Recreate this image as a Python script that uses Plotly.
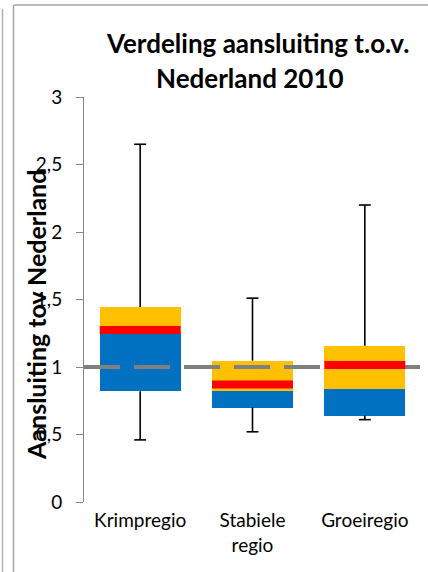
import plotly.graph_objects as go

# Box-plot summary per region type (ratio to the Netherlands, 2010)
regions = ["Krimpregio", "Stabiele<br>regio", "Groeiregio"]
minimum = [0.46, 0.52, 0.61]
q1 = [0.82, 0.70, 0.64]
median = [1.245, 0.82, 0.835]
mean = [1.275, 0.87, 1.015]
q3 = [1.445, 1.047, 1.158]
maximum = [2.65, 1.51, 2.20]
reference_level = 1.0

y_ticks = [0, 0.5, 1, 1.5, 2, 2.5, 3]
y_tick_text = ["0", "0,5", "1", "1,5", "2", "2,5", "3"]

BLUE = "#0070C0"
YELLOW = "#FFC000"
RED = "#FF0000"
GREY = "#808080"
FONT = "Lato"

W, H = 428, 572
ML, MR, MT, MB = 84, 7, 97, 70
PW, PH = W - ML - MR, H - MT - MB

BOX_W = 0.72
CAP = 0.053

xs = list(range(len(regions)))

fig = go.Figure()

# lower box part: Q1 -> median
fig.add_trace(go.Bar(
    x=xs, y=[m - a for m, a in zip(median, q1)], base=q1,
    width=BOX_W, marker=dict(color=BLUE, line=dict(width=0)),
    hoverinfo="skip", showlegend=False))

# upper box part: median -> Q3
fig.add_trace(go.Bar(
    x=xs, y=[b - m for b, m in zip(q3, median)], base=median,
    width=BOX_W, marker=dict(color=YELLOW, line=dict(width=0)),
    hoverinfo="skip", showlegend=False))

# whiskers with caps
wx, wy = [], []
for i in xs:
    wx += [i, i, None, i - CAP, i + CAP, None, i, i, None, i - CAP, i + CAP, None]
    wy += [q3[i], maximum[i], None, maximum[i], maximum[i], None,
           q1[i], minimum[i], None, minimum[i], minimum[i], None]
fig.add_trace(go.Scatter(
    x=wx, y=wy, mode="lines", line=dict(color="black", width=1.6),
    hoverinfo="skip", showlegend=False))

# reference level (Nederland = 1)
fig.add_trace(go.Scatter(
    x=[-0.5, 2.5], y=[reference_level, reference_level], mode="lines",
    line=dict(color=GREY, width=4, dash="36px,14px"),
    hoverinfo="skip", showlegend=False))

# mean marker
mx, my = [], []
for i in xs:
    mx += [i - BOX_W / 2, i + BOX_W / 2, None]
    my += [mean[i], mean[i], None]
fig.add_trace(go.Scatter(
    x=mx, y=my, mode="lines", line=dict(color=RED, width=8),
    hoverinfo="skip", showlegend=False))


def px_x(p):
    return (p - ML) / PW


def px_y(p):
    return (H - MB - p) / PH


frame = "#a6a6a6"
shapes = [
    dict(type="line", xref="paper", yref="paper", x0=px_x(2.5), x1=px_x(2.5),
         y0=px_y(9), y1=px_y(H + 2), line=dict(color="#b4b4b4", width=1.5)),
    dict(type="line", xref="paper", yref="paper", x0=px_x(13.5), x1=px_x(13.5),
         y0=px_y(5), y1=px_y(H + 2), line=dict(color=frame, width=1.5)),
    dict(type="line", xref="paper", yref="paper", x0=px_x(13.5), x1=px_x(W + 2),
         y0=px_y(5), y1=px_y(5), line=dict(color=frame, width=1.5)),
]

annotations = [
    dict(text="<b>Verdeling aansluiting t.o.v.</b>", xref="paper", yref="paper",
         x=px_x(257), y=px_y(43), xanchor="center", yanchor="middle",
         showarrow=False, font=dict(family=FONT, size=26, color="black")),
    dict(text="<b>Nederland 2010</b>", xref="paper", yref="paper",
         x=px_x(250), y=px_y(78), xanchor="center", yanchor="middle",
         showarrow=False, font=dict(family=FONT, size=26, color="black")),
    dict(text="<b>Aansluiting tov Nederland</b>", xref="paper", yref="paper",
         x=px_x(36), y=px_y(315), xanchor="center", yanchor="middle",
         textangle=-90, showarrow=False,
         font=dict(family=FONT, size=25, color="black")),
]

fig.update_layout(
    width=W, height=H,
    margin=dict(l=ML, r=MR, t=MT, b=MB, pad=0),
    paper_bgcolor="white", plot_bgcolor="white",
    barmode="overlay", bargap=0,
    font=dict(family=FONT, size=19, color="black"),
    shapes=shapes, annotations=annotations,
    xaxis=dict(range=[-0.5, 2.5], tickvals=xs, ticktext=regions,
               showline=False, showgrid=False, zeroline=False, ticks="",
               ticklabelstandoff=5,
               tickfont=dict(family=FONT, size=19, color="black"),
               fixedrange=True),
    yaxis=dict(range=[0, 3], tickvals=y_ticks, ticktext=y_tick_text,
               showline=True, linecolor="#868686", linewidth=1,
               ticks="outside", ticklen=7, tickcolor="#868686", tickwidth=1,
               showgrid=False, zeroline=False, ticklabelstandoff=10,
               tickfont=dict(family=FONT, size=19, color="black"),
               fixedrange=True),
)

fig.write_html("out.html", config={"displayModeBar": False})
